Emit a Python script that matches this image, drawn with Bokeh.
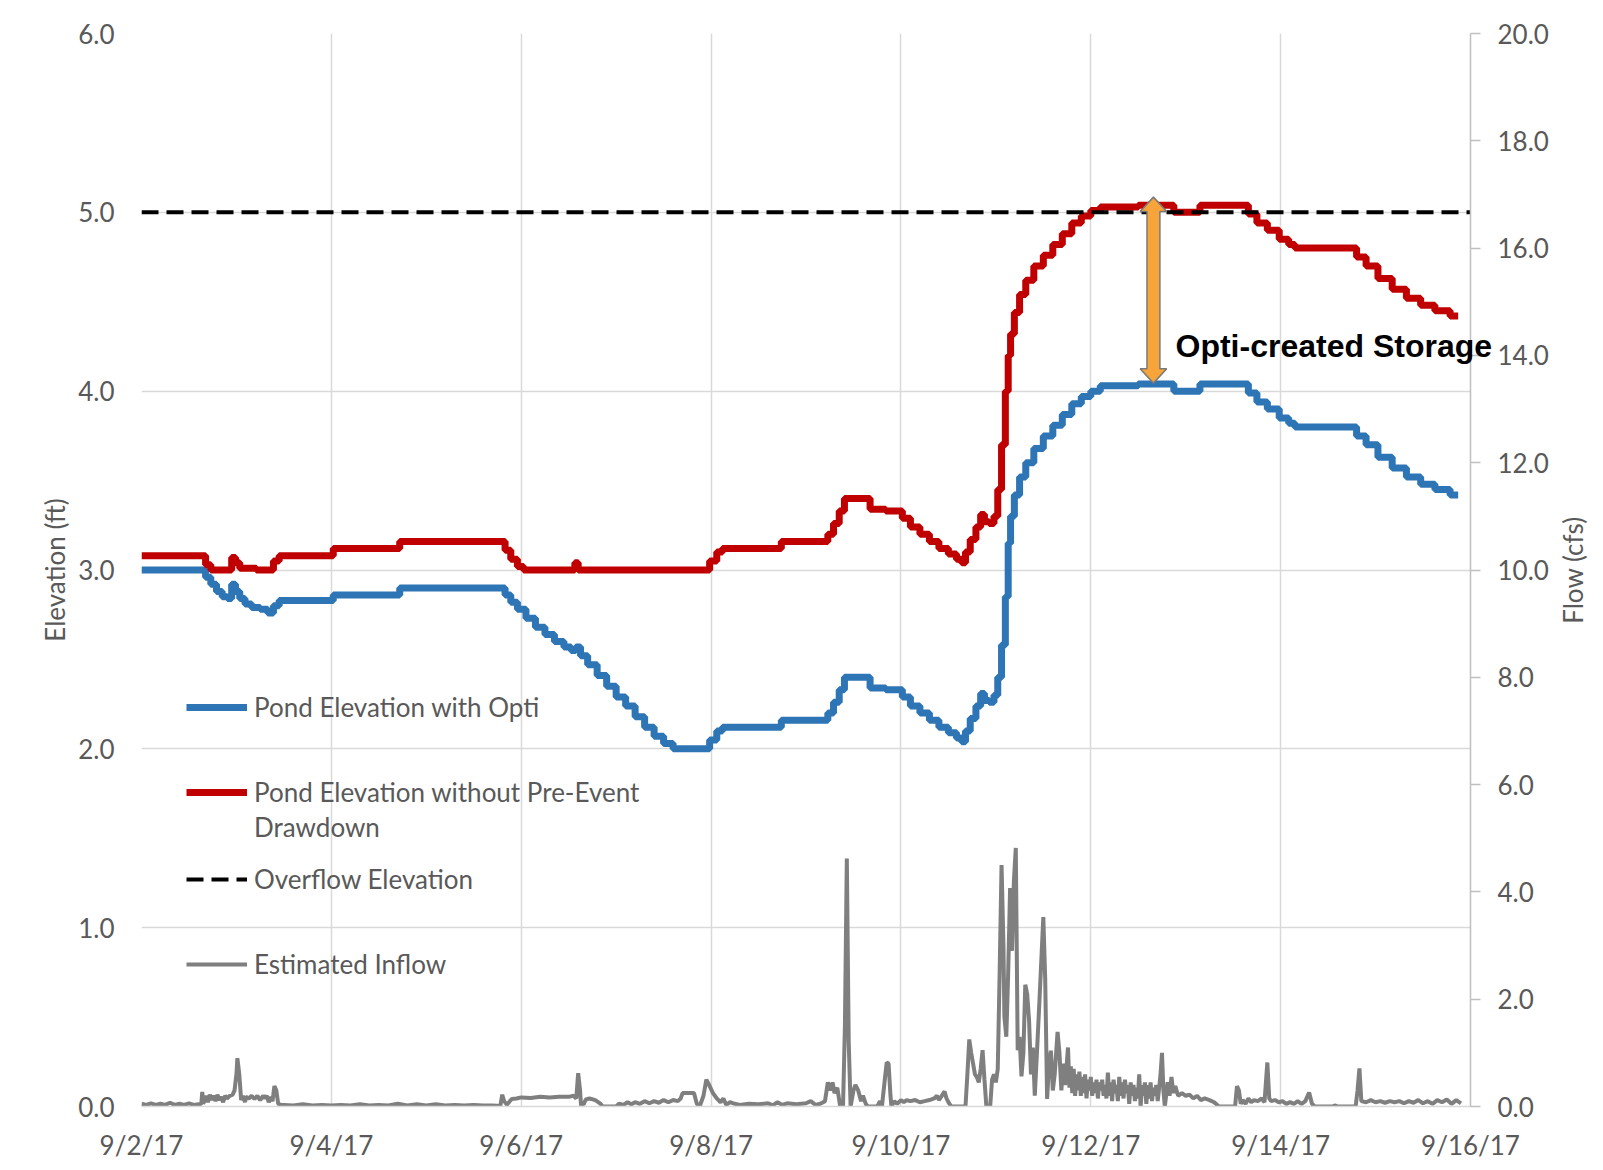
from bokeh.plotting import figure
from bokeh.models import (Range1d, LinearAxis, FixedTicker, Legend, LegendItem,
                          Title, NumeralTickFormatter)
from bokeh.embed import file_html
from bokeh.resources import INLINE

# ---------------- data ----------------
X_TICKS = [0, 2, 4, 6, 8, 10, 12, 14]
X_TICK_LABELS = ["9/2/17", "9/4/17", "9/6/17", "9/8/17", "9/10/17", "9/12/17", "9/14/17", "9/16/17"]
ELEV_TICKS = [0, 1, 2, 3, 4, 5, 6]
FLOW_TICKS = [0, 2, 4, 6, 8, 10, 12, 14, 16, 18, 20]

# days after 9/2/17 00:00
OPTI_DAY = [0.00, 0.65, 0.70, 0.76, 0.82, 0.88, 0.93, 0.97, 1.01, 1.06, 1.12, 1.20, 1.30, 1.36, 1.42, 1.48,
            2.00, 2.04, 2.70, 2.74, 3.80, 3.86, 3.92, 4.00, 4.10, 4.20, 4.30, 4.40, 4.50, 4.55, 4.60, 4.65,
            4.75, 4.85, 4.95, 5.05, 5.15, 5.25, 5.35, 5.45, 5.55, 5.65, 5.95, 6.02, 6.10, 6.14, 6.72, 6.76,
            7.20, 7.26, 7.32, 7.38, 7.43, 7.65, 7.70, 7.98, 8.05, 8.15, 8.25, 8.35, 8.45, 8.55, 8.62, 8.66,
            8.70, 8.76, 8.82, 8.86, 8.90, 8.96, 9.00, 9.04, 9.08, 9.12, 9.14, 9.17, 9.22, 9.28, 9.35, 9.45,
            9.55, 9.65, 9.75, 9.85, 9.95, 10.05, 10.15, 10.85, 10.90, 11.12, 11.18, 11.62, 11.70, 11.80,
            11.92, 12.05, 12.12, 12.18, 12.75, 12.85, 12.95, 13.10, 13.25, 13.40, 13.55, 13.70, 13.87]
OPTI_ELEV = [3.00, 3.00, 2.96, 2.92, 2.88, 2.85, 2.84, 2.92, 2.88, 2.84, 2.81, 2.79, 2.78, 2.76, 2.80, 2.83,
             2.83, 2.86, 2.86, 2.90, 2.90, 2.86, 2.82, 2.78, 2.73, 2.68, 2.64, 2.60, 2.57, 2.55, 2.57, 2.52,
             2.47, 2.41, 2.35, 2.29, 2.24, 2.18, 2.12, 2.07, 2.03, 2.00, 2.00, 2.05, 2.10, 2.12, 2.12, 2.16,
             2.16, 2.20, 2.26, 2.33, 2.40, 2.40, 2.34, 2.33, 2.29, 2.24, 2.20, 2.16, 2.12, 2.09, 2.06, 2.04,
             2.10, 2.17, 2.24, 2.31, 2.27, 2.26, 2.30, 2.40, 2.58, 2.85, 3.15, 3.30, 3.42, 3.52, 3.60, 3.68,
             3.75, 3.81, 3.87, 3.93, 3.97, 4.00, 4.03, 4.04, 4.00, 4.00, 4.04, 4.04, 3.99, 3.94,
             3.90, 3.85, 3.82, 3.80, 3.80, 3.75, 3.70, 3.63, 3.57, 3.52, 3.48, 3.45, 3.42]

NODRAW_DAY = [0.00, 0.65, 0.70, 0.76, 0.93, 0.97, 1.01, 1.06, 1.36, 1.42, 1.48, 2.00, 2.04, 2.70, 2.74,
              3.80, 3.86, 3.92, 4.00, 4.05, 4.55, 4.58, 4.62, 5.95, 6.02, 6.10, 6.14, 6.72, 6.76,
              7.20, 7.26, 7.32, 7.38, 7.43, 7.65, 7.70, 7.98, 8.05, 8.15, 8.25, 8.35, 8.45, 8.55, 8.62, 8.66,
              8.70, 8.76, 8.82, 8.86, 8.90, 8.96, 9.00, 9.04, 9.08, 9.12, 9.14, 9.17, 9.22, 9.28, 9.35, 9.45,
              9.55, 9.65, 9.75, 9.85, 9.95, 10.05, 10.15, 10.85, 10.90, 11.12, 11.18, 11.62, 11.70, 11.80,
              11.92, 12.05, 12.12, 12.18, 12.75, 12.85, 12.95, 13.10, 13.25, 13.40, 13.55, 13.70, 13.87]
NODRAW_ELEV = [3.08, 3.08, 3.03, 3.00, 3.00, 3.07, 3.04, 3.01, 3.00, 3.05, 3.08, 3.08, 3.12, 3.12, 3.16,
               3.16, 3.11, 3.06, 3.02, 3.00, 3.00, 3.04, 3.00, 3.00, 3.05, 3.10, 3.12, 3.12, 3.16,
               3.16, 3.20, 3.26, 3.33, 3.40, 3.40, 3.34, 3.33, 3.29, 3.24, 3.20, 3.16, 3.12, 3.09, 3.06, 3.04,
               3.10, 3.17, 3.24, 3.31, 3.27, 3.26, 3.30, 3.45, 3.70, 4.00, 4.20, 4.32, 4.44, 4.54, 4.62, 4.70,
               4.76, 4.82, 4.88, 4.94, 4.98, 5.01, 5.03, 5.04, 5.00, 5.00, 5.04, 5.04, 4.99, 4.94,
               4.90, 4.85, 4.82, 4.80, 4.80, 4.75, 4.70, 4.63, 4.57, 4.52, 4.48, 4.45, 4.42]

OVERFLOW_ELEV = 5.0

# (day, cfs) readings of the estimated inflow
INFLOW_POINTS = [
    (0.00, 0.05), (0.05, 0.03), (0.10, 0.06), (0.15, 0.03), (0.20, 0.05), (0.25, 0.03), (0.30, 0.07),
    (0.35, 0.03), (0.40, 0.05), (0.45, 0.03), (0.50, 0.06), (0.55, 0.03), (0.60, 0.04), (0.63, 0.05),
    (0.64, 0.27), (0.65, 0.05), (0.68, 0.20), (0.70, 0.08), (0.72, 0.22), (0.74, 0.12), (0.76, 0.20),
    (0.78, 0.10), (0.80, 0.22), (0.82, 0.12), (0.84, 0.18), (0.86, 0.08), (0.88, 0.20), (0.90, 0.15),
    (0.93, 0.20), (0.96, 0.22), (0.98, 0.30), (1.00, 0.60), (1.01, 0.90), (1.03, 0.60), (1.05, 0.12),
    (1.07, 0.20), (1.09, 0.08), (1.10, 0.18), (1.13, 0.15), (1.16, 0.20), (1.19, 0.14), (1.22, 0.20),
    (1.25, 0.12), (1.28, 0.20), (1.30, 0.15), (1.32, 0.20), (1.34, 0.08), (1.36, 0.18), (1.38, 0.10),
    (1.40, 0.38), (1.42, 0.30), (1.44, 0.05), (1.47, 0.03), (1.50, 0.03), (1.60, 0.02), (1.70, 0.04),
    (1.80, 0.02), (1.90, 0.03), (2.00, 0.02), (2.10, 0.03), (2.20, 0.02), (2.30, 0.04), (2.40, 0.02),
    (2.50, 0.03), (2.60, 0.02), (2.70, 0.05), (2.80, 0.02), (2.90, 0.04), (3.00, 0.02), (3.10, 0.04),
    (3.20, 0.02), (3.30, 0.03), (3.40, 0.02), (3.50, 0.03), (3.60, 0.02), (3.70, 0.02), (3.78, 0.01),
    (3.80, 0.22), (3.82, 0.10), (3.85, 0.03), (3.88, 0.10), (3.90, 0.14), (3.95, 0.15), (4.00, 0.17),
    (4.10, 0.16), (4.20, 0.18), (4.30, 0.17), (4.40, 0.18), (4.50, 0.18), (4.55, 0.20), (4.58, 0.15),
    (4.60, 0.62), (4.62, 0.30), (4.63, 0.02), (4.66, 0.05), (4.68, 0.13), (4.72, 0.15), (4.78, 0.12),
    (4.83, 0.06), (4.86, 0.00), (5.00, 0.00), (5.03, 0.05), (5.08, 0.03), (5.12, 0.08), (5.16, 0.04),
    (5.20, 0.08), (5.25, 0.05), (5.30, 0.10), (5.35, 0.06), (5.40, 0.10), (5.45, 0.07), (5.50, 0.12),
    (5.55, 0.08), (5.60, 0.12), (5.65, 0.10), (5.68, 0.15), (5.70, 0.25), (5.82, 0.25), (5.85, 0.05),
    (5.88, 0.00), (5.92, 0.20), (5.95, 0.50), (5.98, 0.40), (6.02, 0.25), (6.06, 0.15), (6.10, 0.08),
    (6.13, 0.15), (6.16, 0.03), (6.20, 0.08), (6.25, 0.05), (6.30, 0.03), (6.40, 0.05), (6.50, 0.04),
    (6.60, 0.06), (6.65, 0.02), (6.70, 0.08), (6.75, 0.03), (6.80, 0.06), (6.90, 0.04), (7.00, 0.06),
    (7.05, 0.10), (7.10, 0.03), (7.15, 0.05), (7.20, 0.10), (7.23, 0.45), (7.26, 0.30), (7.28, 0.45),
    (7.30, 0.25), (7.33, 0.35), (7.36, 0.00), (7.39, 0.00), (7.41, 1.50), (7.43, 4.62), (7.45, 1.20),
    (7.47, 0.00), (7.50, 0.30), (7.52, 0.40), (7.55, 0.30), (7.58, 0.10), (7.60, 0.20), (7.63, 0.05),
    (7.65, 0.00), (7.75, 0.00), (7.78, 0.10), (7.80, 0.00), (7.83, 0.50), (7.85, 0.82), (7.87, 0.80),
    (7.89, 0.20), (7.90, 0.00), (7.93, 0.10), (7.96, 0.05), (8.00, 0.12), (8.03, 0.08), (8.06, 0.12),
    (8.10, 0.10), (8.15, 0.12), (8.20, 0.08), (8.25, 0.10), (8.30, 0.12), (8.35, 0.15), (8.38, 0.20),
    (8.40, 0.12), (8.43, 0.20), (8.46, 0.28), (8.48, 0.15), (8.50, 0.08), (8.53, 0.00), (8.68, 0.00),
    (8.70, 0.60), (8.72, 1.25), (8.74, 1.00), (8.76, 0.80), (8.78, 0.60), (8.80, 0.55), (8.82, 0.45),
    (8.84, 0.70), (8.86, 1.05), (8.88, 0.50), (8.90, 0.00), (8.94, 0.00), (8.96, 0.50), (8.98, 0.60),
    (9.00, 0.45), (9.02, 0.70), (9.04, 2.50), (9.06, 4.50), (9.08, 3.00), (9.09, 1.67), (9.11, 1.30),
    (9.13, 2.50), (9.15, 4.07), (9.17, 2.90), (9.19, 4.20), (9.21, 4.82), (9.23, 1.05), (9.25, 1.30),
    (9.27, 0.56), (9.29, 1.00), (9.31, 2.27), (9.33, 2.10), (9.35, 1.60), (9.37, 0.60), (9.39, 1.10),
    (9.41, 0.20), (9.43, 0.90), (9.46, 2.00), (9.50, 3.53), (9.52, 2.36), (9.54, 0.14), (9.56, 0.80),
    (9.58, 1.04), (9.60, 0.30), (9.62, 0.60), (9.65, 1.39), (9.67, 1.00), (9.69, 0.30), (9.71, 0.80),
    (9.73, 0.40), (9.76, 1.10), (9.775, 0.35), (9.79, 0.75), (9.805, 0.25), (9.82, 0.70), (9.835, 0.20),
    (9.85, 0.60), (9.865, 0.30), (9.88, 0.65), (9.895, 0.20), (9.91, 0.55), (9.925, 0.25), (9.94, 0.60),
    (9.955, 0.15), (9.97, 0.50), (9.985, 0.30), (10.00, 0.55), (10.015, 0.20), (10.03, 0.45),
    (10.045, 0.25), (10.06, 0.50), (10.075, 0.15), (10.09, 0.45), (10.105, 0.30), (10.12, 0.50),
    (10.135, 0.20), (10.15, 0.40), (10.165, 0.15), (10.18, 0.63), (10.195, 0.20), (10.21, 0.45),
    (10.225, 0.10), (10.24, 0.50), (10.255, 0.25), (10.27, 0.40), (10.285, 0.10), (10.30, 0.55),
    (10.315, 0.20), (10.33, 0.45), (10.345, 0.15), (10.36, 0.50), (10.375, 0.25), (10.39, 0.40),
    (10.405, 0.05), (10.42, 0.45), (10.435, 0.20), (10.45, 0.40), (10.465, 0.10), (10.48, 0.35),
    (10.495, 0.15), (10.51, 0.60), (10.525, 0.00), (10.54, 0.40), (10.555, 0.20), (10.57, 0.45),
    (10.585, 0.05), (10.60, 0.40), (10.615, 0.15), (10.63, 0.45), (10.645, 0.10), (10.66, 0.35),
    (10.675, 0.20), (10.69, 0.40), (10.705, 0.10), (10.72, 0.35), (10.735, 0.60), (10.75, 1.00),
    (10.765, 0.30), (10.78, 0.00), (10.81, 0.45), (10.83, 0.20), (10.85, 0.55), (10.87, 0.25),
    (10.89, 0.38), (10.92, 0.20), (10.96, 0.25), (11.00, 0.20), (11.04, 0.22), (11.08, 0.15),
    (11.12, 0.20), (11.16, 0.12), (11.20, 0.15), (11.25, 0.12), (11.30, 0.08), (11.35, 0.00),
    (11.52, 0.00), (11.54, 0.38), (11.56, 0.30), (11.58, 0.05), (11.60, 0.12), (11.63, 0.05),
    (11.66, 0.15), (11.69, 0.08), (11.72, 0.12), (11.76, 0.10), (11.80, 0.15), (11.83, 0.08),
    (11.86, 0.82), (11.88, 0.15), (11.90, 0.10), (11.94, 0.12), (11.98, 0.08), (12.02, 0.10),
    (12.06, 0.05), (12.10, 0.08), (12.14, 0.05), (12.18, 0.10), (12.22, 0.05), (12.26, 0.10),
    (12.30, 0.26), (12.33, 0.05), (12.36, 0.00), (12.55, 0.00), (12.57, 0.02), (12.60, 0.00),
    (12.79, 0.00), (12.81, 0.30), (12.83, 0.71), (12.85, 0.10), (12.90, 0.08), (12.95, 0.12),
    (13.00, 0.08), (13.05, 0.10), (13.10, 0.07), (13.15, 0.10), (13.20, 0.08), (13.25, 0.10),
    (13.30, 0.06), (13.35, 0.10), (13.40, 0.07), (13.45, 0.12), (13.50, 0.06), (13.55, 0.10),
    (13.60, 0.05), (13.65, 0.12), (13.70, 0.08), (13.75, 0.13), (13.80, 0.05), (13.85, 0.12),
    (13.90, 0.06),
]
INFLOW_DAY = [d for d, _ in INFLOW_POINTS]
INFLOW_CFS = [v for _, v in INFLOW_POINTS]

LEGEND_LABELS = ["Pond Elevation with Opti", "Pond Elevation without Pre-Event", "Drawdown",
                 "Overflow Elevation", "Estimated Inflow"]

# ---------------- annotation placement ----------------
STORAGE_DAY = 10.66
STORAGE_TOP = 5.085
STORAGE_BOTTOM = 4.045

FONT = "Lato"
TXT = "#595959"
GRID = "#d9d9d9"

p = figure(width=1600, height=1166, x_range=Range1d(0, 14), y_range=Range1d(0, 6),
           output_backend="svg", toolbar_location=None,
           min_border_left=141, min_border_right=130, min_border_top=33, min_border_bottom=60,
           background_fill_color="white", border_fill_color="white")
p.outline_line_color = None

p.extra_y_ranges = {"flow": Range1d(0, 20)}

# grids
p.xgrid.ticker = FixedTicker(ticks=X_TICKS)
p.ygrid.ticker = FixedTicker(ticks=ELEV_TICKS)
for g in (p.xgrid, p.ygrid):
    g.grid_line_color = GRID
    g.grid_line_width = 1.5

# bottom axis
xa = p.xaxis[0]
xa.ticker = FixedTicker(ticks=X_TICKS)
xa.major_label_overrides = {t: l for t, l in zip(X_TICKS, X_TICK_LABELS)}
xa.axis_line_color = GRID
xa.axis_line_width = 1.5
xa.major_tick_line_color = None
xa.minor_tick_line_color = None
xa.major_label_standoff = 16
xa.major_label_text_font = FONT
xa.major_label_text_font_size = "26px"
xa.major_label_text_color = TXT

# left axis
ya = p.yaxis[0]
ya.ticker = FixedTicker(ticks=ELEV_TICKS)
ya.formatter = NumeralTickFormatter(format="0.0")
ya.axis_line_color = None
ya.major_tick_line_color = None
ya.minor_tick_line_color = None
ya.major_label_standoff = 21
ya.major_label_text_font = FONT
ya.major_label_text_font_size = "26px"
ya.major_label_text_color = TXT
ya.axis_label = "Elevation (ft)"
ya.axis_label_text_font = FONT
ya.axis_label_text_font_size = "26px"
ya.axis_label_text_font_style = "normal"
ya.axis_label_text_color = TXT
ya.axis_label_standoff = 4

# right axis
ra = LinearAxis(y_range_name="flow", ticker=FixedTicker(ticks=FLOW_TICKS),
                formatter=NumeralTickFormatter(format="0.0"))
ra.axis_line_color = "#bfbfbf"
ra.axis_line_width = 1.5
ra.major_tick_line_color = "#bfbfbf"
ra.major_tick_line_width = 1.5
ra.major_tick_out = 10
ra.major_tick_in = 0
ra.minor_tick_line_color = None
ra.major_label_standoff = 17
ra.major_label_text_font = FONT
ra.major_label_text_font_size = "26px"
ra.major_label_text_color = TXT
p.add_layout(ra, "right")

# right axis title, reading bottom-to-top like the reference
flow_title = Title(text="Flow (cfs)", align="center", vertical_align="bottom", standoff=-3104,
                   text_font=FONT, text_font_size="26px", text_font_style="normal", text_color=TXT)
p.add_layout(flow_title, "left")

# series
r_flow = p.line(INFLOW_DAY, INFLOW_CFS, y_range_name="flow", line_color="#7f7f7f", line_width=4)
r_blue = p.step(OPTI_DAY, OPTI_ELEV, mode="center", line_color="#2e75b6", line_width=7)
r_red = p.step(NODRAW_DAY, NODRAW_ELEV, mode="center", line_color="#c00000", line_width=7)
r_over = p.line([X_TICKS[0], X_TICKS[-1]], [OVERFLOW_ELEV, OVERFLOW_ELEV], line_color="black",
                line_width=4, line_dash="17 8")
r_none = p.line([], [], line_alpha=0)

# double arrow (Opti-created storage)
sw, hw, hl = 0.068, 0.14, 0.08
ax = [STORAGE_DAY, STORAGE_DAY + hw, STORAGE_DAY + sw, STORAGE_DAY + sw, STORAGE_DAY + hw,
      STORAGE_DAY, STORAGE_DAY - hw, STORAGE_DAY - sw, STORAGE_DAY - sw, STORAGE_DAY - hw]
ay = [STORAGE_TOP, STORAGE_TOP - hl, STORAGE_TOP - hl, STORAGE_BOTTOM + hl, STORAGE_BOTTOM + hl,
      STORAGE_BOTTOM, STORAGE_BOTTOM + hl, STORAGE_BOTTOM + hl, STORAGE_TOP - hl, STORAGE_TOP - hl]
p.patch(ax, ay, fill_color="#f7a53a", line_color="#7a7a7a", line_width=1.5)

# storage label: a title whose negative standoff brings it down into the plot, unclipped
store_title = Title(text="Opti-created Storage", align="left", vertical_align="bottom",
                    offset=1034, standoff=-660, text_font="Liberation Sans",
                    text_font_size="32px", text_font_style="bold", text_color="black")
p.add_layout(store_title, "above")


def make_legend(pairs, loc):
    lg = Legend(items=[LegendItem(label=lab, renderers=[r]) for lab, r in pairs],
                location=loc, orientation="vertical")
    lg.background_fill_alpha = 0
    lg.border_line_alpha = 0
    lg.padding = 0
    lg.margin = 0
    lg.spacing = 51
    lg.glyph_width = 61
    lg.glyph_height = 34
    lg.label_height = 34
    lg.label_standoff = 7
    lg.label_text_font = FONT
    lg.label_text_font_size = "26px"
    lg.label_text_color = TXT
    p.add_layout(lg)


make_legend([(LEGEND_LABELS[0], r_blue), (LEGEND_LABELS[1], r_red)], (45, 297))
make_legend([(LEGEND_LABELS[2], r_none)], (45, 262))
make_legend([(LEGEND_LABELS[3], r_over), (LEGEND_LABELS[4], r_flow)], (45, 125))

open("out.html", "w").write(file_html(p, INLINE))
